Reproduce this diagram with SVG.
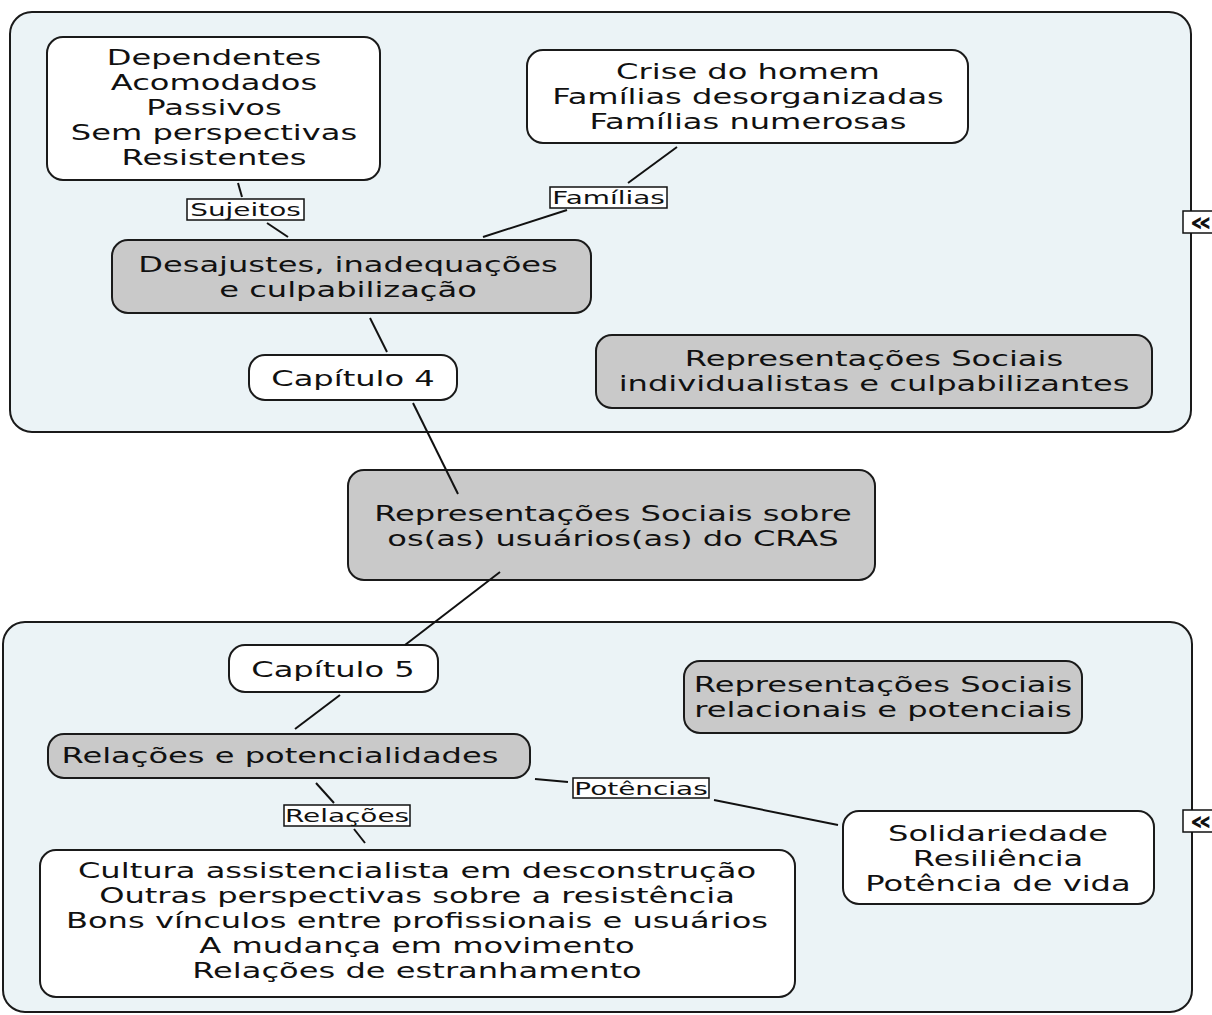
<svg xmlns="http://www.w3.org/2000/svg" width="1212" height="1015" viewBox="0 0 1212 1015">
<style>
.bg{fill:#ffffff}
.panel{fill:#ebf3f6;stroke:#1a1a1a;stroke-width:2}
.wn{fill:#ffffff;stroke:#1a1a1a;stroke-width:2}
.gn{fill:#c9c9c9;stroke:#1a1a1a;stroke-width:2}
.lbl{fill:#ffffff;stroke:#111111;stroke-width:1.5}
.t{font-family:"DejaVu Sans","Verdana",sans-serif;font-size:21px;fill:#111111;text-anchor:middle}
.tl{font-family:"DejaVu Sans","Verdana",sans-serif;font-size:18px;fill:#111111;text-anchor:middle}
.tab{fill:#ffffff;stroke:#111111;stroke-width:1.5}
.tabt{font-family:"DejaVu Sans",sans-serif;font-size:26px;font-weight:bold;fill:#111111;text-anchor:middle}
#connectors line{stroke:#111111;stroke-width:2}
</style>
<rect class="bg" x="0" y="0" width="1212" height="1015"/>
<g id="panel-top">
<rect class="panel" x="10" y="12" width="1181" height="420" rx="22"/>
<rect class="tab" x="1183" y="211" width="35" height="22"/>
<text class="tabt" transform="translate(1201,231) scale(1.4,1)" x="0" y="0">«</text>
</g>
<g id="panel-bottom">
<rect class="panel" x="3" y="622" width="1189" height="390" rx="22"/>
<rect class="tab" x="1183" y="810" width="35" height="22"/>
<text class="tabt" transform="translate(1201,830) scale(1.4,1)" x="0" y="0">«</text>
</g>
<g id="node-dependentes">
<rect class="wn" x="47" y="37" width="333" height="143" rx="16"/>
<text class="t" transform="translate(214,0) scale(1.53,1)"><tspan x="0" y="65">Dependentes</tspan><tspan x="0" y="90">Acomodados</tspan><tspan x="0" y="115">Passivos</tspan><tspan x="0" y="140">Sem perspectivas</tspan><tspan x="0" y="165">Resistentes</tspan></text>
</g>
<g id="node-crise">
<rect class="wn" x="527" y="50" width="441" height="93" rx="16"/>
<text class="t" transform="translate(748,0) scale(1.53,1)"><tspan x="0" y="79">Crise do homem</tspan><tspan x="0" y="104">Famílias desorganizadas</tspan><tspan x="0" y="129">Famílias numerosas</tspan></text>
</g>
<g id="label-sujeitos">
<rect class="lbl" x="187" y="199" width="117" height="21"/>
<text class="tl" transform="translate(245.5,0) scale(1.55,1)" x="0" y="216">Sujeitos</text>
</g>
<g id="label-familias">
<rect class="lbl" x="550" y="187" width="117" height="21"/>
<text class="tl" transform="translate(608.5,0) scale(1.55,1)" x="0" y="204">Famílias</text>
</g>
<g id="node-desajustes">
<rect class="gn" x="112" y="240" width="479" height="73" rx="16"/>
<text class="t" transform="translate(348,0) scale(1.53,1)"><tspan x="0" y="272">Desajustes, inadequações</tspan><tspan x="0" y="297">e culpabilização</tspan></text>
</g>
<g id="node-capitulo4">
<rect class="wn" x="249" y="355" width="208" height="45" rx="16"/>
<text class="t" transform="translate(353,0) scale(1.53,1)" x="0" y="386">Capítulo 4</text>
</g>
<g id="node-rs-individualistas">
<rect class="gn" x="596" y="335" width="556" height="73" rx="16"/>
<text class="t" transform="translate(874,0) scale(1.53,1)"><tspan x="0" y="366">Representações Sociais</tspan><tspan x="0" y="391">individualistas e culpabilizantes</tspan></text>
</g>
<g id="node-central">
<rect class="gn" x="348" y="470" width="527" height="110" rx="16"/>
<text class="t" transform="translate(613,0) scale(1.53,1)"><tspan x="0" y="521">Representações Sociais sobre</tspan><tspan x="0" y="546">os(as) usuários(as) do CRAS</tspan></text>
</g>
<g id="node-capitulo5">
<rect class="wn" x="229" y="645" width="209" height="47" rx="16"/>
<text class="t" transform="translate(333,0) scale(1.53,1)" x="0" y="677">Capítulo 5</text>
</g>
<g id="node-rs-relacionais">
<rect class="gn" x="684" y="661" width="398" height="72" rx="16"/>
<text class="t" transform="translate(883,0) scale(1.53,1)"><tspan x="0" y="692">Representações Sociais</tspan><tspan x="0" y="717">relacionais e potenciais</tspan></text>
</g>
<g id="node-relacoes-pot">
<rect class="gn" x="48" y="734" width="482" height="44" rx="16"/>
<text class="t" transform="translate(280,0) scale(1.53,1)" x="0" y="763">Relações e potencialidades</text>
</g>
<g id="label-relacoes">
<rect class="lbl" x="284" y="805" width="126" height="21"/>
<text class="tl" transform="translate(347,0) scale(1.55,1)" x="0" y="822">Relações</text>
</g>
<g id="label-potencias">
<rect class="lbl" x="573" y="778" width="136" height="20"/>
<text class="tl" transform="translate(641,0) scale(1.55,1)" x="0" y="795">Potências</text>
</g>
<g id="node-solidariedade">
<rect class="wn" x="843" y="811" width="311" height="93" rx="16"/>
<text class="t" transform="translate(998,0) scale(1.53,1)"><tspan x="0" y="841">Solidariedade</tspan><tspan x="0" y="866">Resiliência</tspan><tspan x="0" y="891">Potência de vida</tspan></text>
</g>
<g id="node-cultura">
<rect class="wn" x="40" y="850" width="755" height="147" rx="16"/>
<text class="t" transform="translate(417,0) scale(1.53,1)"><tspan x="0" y="878">Cultura assistencialista em desconstrução</tspan><tspan x="0" y="903">Outras perspectivas sobre a resistência</tspan><tspan x="0" y="928">Bons vínculos entre profissionais e usuários</tspan><tspan x="0" y="953">A mudança em movimento</tspan><tspan x="0" y="978">Relações de estranhamento</tspan></text>
</g>
<g id="connectors">
<line x1="238" y1="183" x2="242" y2="197"/>
<line x1="267" y1="223" x2="288" y2="237"/>
<line x1="677" y1="147" x2="628" y2="183"/>
<line x1="567" y1="210" x2="483" y2="237"/>
<line x1="370" y1="318" x2="387" y2="352"/>
<line x1="413" y1="403" x2="458" y2="494"/>
<line x1="500" y1="572" x2="405" y2="645"/>
<line x1="340" y1="695" x2="295" y2="729"/>
<line x1="316" y1="783" x2="334" y2="803"/>
<line x1="354" y1="829" x2="365" y2="843"/>
<line x1="535" y1="779" x2="568" y2="782"/>
<line x1="714" y1="800" x2="838" y2="825"/>
</g>
</svg>
